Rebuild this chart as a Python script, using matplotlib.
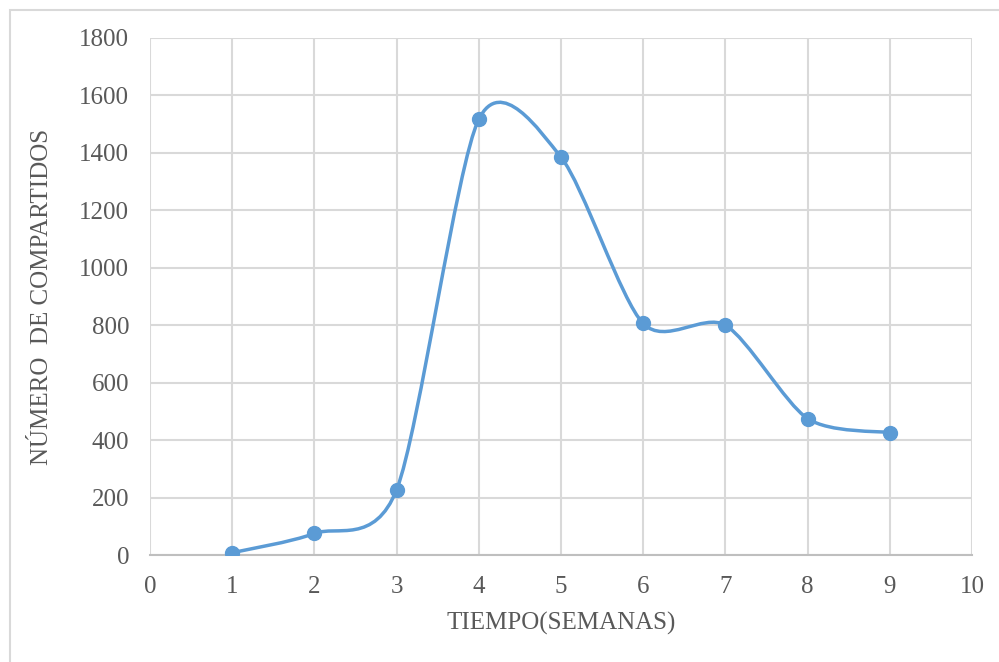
import numpy as np
import matplotlib
matplotlib.use('Agg')
from matplotlib import pyplot as plt
from matplotlib.path import Path
from matplotlib.patches import PathPatch, Rectangle

# Données
semanas = [1, 2, 3, 4, 5, 6, 7, 8, 9]
compartidos = [8, 75, 227, 1517, 1385, 806, 800, 475, 426]
x_ticks = list(range(0, 11))
y_ticks = list(range(0, 2000, 200))

COULEUR = '#5B9BD5'
GRIS_TEXTE = '#595959'

plt.rcParams['font.family'] = ['Liberation Serif', 'DejaVu Serif']

fig = plt.figure(figsize=(9.99, 6.62), dpi=100)
# cadre gris clair autour du graphique
fig.patches.append(Rectangle((10 / 999, -0.1), 1.2, 1 - 10 / 662 + 0.1,
                             transform=fig.transFigure, fill=False,
                             edgecolor='#d9d9d9', linewidth=1.5))

ax = fig.add_axes([150 / 999, 1 - 555 / 662, (972 - 150) / 999, (555 - 38) / 662])
ax.set_xlim(0, 10)
ax.set_ylim(0, 1800)
ax.set_xticks(x_ticks)
ax.set_yticks(y_ticks)
ax.grid(True, color='#d9d9d9', linewidth=1.5)
ax.set_axisbelow(True)
for s in ['top', 'right', 'left']:
    ax.spines[s].set_visible(False)
ax.spines['bottom'].set_color('#bfbfbf')
ax.spines['bottom'].set_linewidth(1.5)
ax.tick_params(length=0, labelsize=18, labelcolor=GRIS_TEXTE)
ax.tick_params(axis='x', pad=15)
ax.tick_params(axis='y', pad=15)

# Courbe lissée type Excel (Bézier, calculée en coordonnées écran)
pts = ax.transData.transform(np.column_stack([semanas, compartidos]))
f = 0.135
verts = [pts[0]]
codes = [Path.MOVETO]
n = len(pts)
for i in range(n - 1):
    p0 = pts[max(i - 1, 0)]
    p1 = pts[i]
    p2 = pts[i + 1]
    p3 = pts[min(i + 2, n - 1)]
    verts += [p1 + (p2 - p0) * f, p2 - (p3 - p1) * f, p2]
    codes += [Path.CURVE4] * 3
verts = ax.transData.inverted().transform(np.array(verts))
ax.add_patch(PathPatch(Path(verts, codes), facecolor='none', edgecolor=COULEUR,
                       linewidth=2.5, capstyle='round', zorder=3))
ax.plot(semanas, compartidos, 'o', color=COULEUR, markersize=10, zorder=4)

ax.set_xlabel('TIEMPO(SEMANAS)', fontsize=18, color=GRIS_TEXTE, labelpad=10)
ax.set_ylabel('NÚMERO  DE COMPARTIDOS', fontsize=18, color=GRIS_TEXTE, labelpad=19)

plt.savefig('out.png', dpi=100)
